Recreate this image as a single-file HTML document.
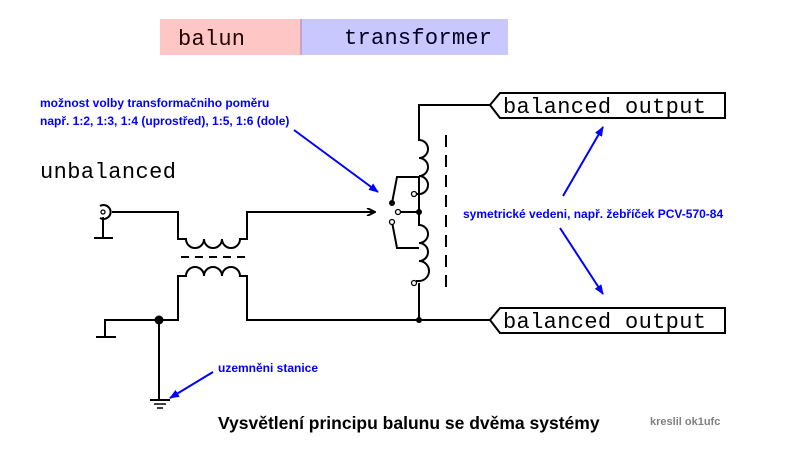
<!DOCTYPE html>
<html><head><meta charset="utf-8"><style>
html,body{margin:0;padding:0;background:#fff;}
svg{display:block}
.m{font-family:"Liberation Mono",monospace;}
.s{font-family:"Liberation Sans",sans-serif;font-weight:bold;}
</style></head><body>
<svg width="800" height="452" viewBox="0 0 800 452" xmlns="http://www.w3.org/2000/svg">
<defs>
<marker id="ah" markerWidth="10" markerHeight="8" refX="9" refY="4" orient="auto" markerUnits="userSpaceOnUse">
<path d="M0,0 L10,4 L0,8 z" fill="#0000ff"/></marker>
<marker id="ak" markerWidth="10" markerHeight="8" refX="9" refY="4" orient="auto" markerUnits="userSpaceOnUse">
<path d="M1,0 L9,4 L1,8" fill="none" stroke="#000" stroke-width="2"/></marker>
</defs>
<rect x="160" y="19" width="140" height="36" fill="#ffc6c6"/>
<rect x="300" y="19" width="208" height="36" fill="#c8c8ff"/>
<line x1="301" y1="19" x2="301" y2="55" stroke="#c8a0d0" stroke-width="2"/>
<text class="m" x="178" y="45" font-size="22" textLength="67" fill="#200">balun</text>
<text class="m" x="344" y="44" font-size="22" textLength="148" fill="#002">transformer</text>

<text class="m" x="40" y="178" font-size="22" textLength="136">unbalanced</text>

<g fill="none" stroke="#000" stroke-width="2">
<path d="M100,206 A7,7 0 1 1 100,218"/>
<circle cx="103" cy="212" r="2" stroke-width="1.3"/>
<line x1="103" y1="217" x2="103" y2="238"/>
<line x1="94" y1="238" x2="113" y2="238"/>
<path d="M112,212 H178 V239 H186 a9,9 0 0 0 18,0 a9,9 0 0 0 18,0 a9,9 0 0 0 18,0 H247 V212 H375" marker-end="url(#ak)"/>
<line x1="181" y1="257" x2="247" y2="257" stroke-dasharray="8,6"/>
<path d="M105,337 V320 H178 V276 H186 a9,9 0 0 1 18,0 a9,9 0 0 1 18,0 a9,9 0 0 1 18,0 H247 V320 H490"/>
<line x1="96" y1="337" x2="116" y2="337"/>
<line x1="159" y1="320" x2="159" y2="400"/>
<line x1="150" y1="400" x2="170" y2="400"/>
<line x1="154" y1="404" x2="166" y2="404" stroke-width="1.5"/>
<line x1="157" y1="408" x2="163" y2="408" stroke-width="1.5"/>
<path d="M490,105 H419 V140 a9,9 0 0 1 0,18 a9,9 0 0 1 0,18 a9,9 0 0 1 0,18 H416"/>
<path d="M419,177 V225 a9,9 0 0 1 0,18 a9,9 0 0 1 0,18 a9,9 0 0 1 0,20 H416"/>
<line x1="419" y1="283" x2="419" y2="320"/>
<path d="M392,203 L397,177 H419"/>
<path d="M392,222 L397,248 H419"/>
<line x1="400" y1="212" x2="419" y2="212"/>
<line x1="446" y1="135" x2="446" y2="292" stroke-dasharray="12,8"/>
<path d="M490,105 L500,93 H725 V118 H500 Z"/>
<path d="M490,320 L500,308 H725 V333 H500 Z"/>
</g>
<g fill="#fff" stroke="#000" stroke-width="1.3">
<circle cx="414" cy="194" r="2.5"/>
<circle cx="398" cy="212" r="2.5"/>
<circle cx="392" cy="222" r="2.5"/>
<circle cx="414" cy="283" r="2.5"/>
</g>
<g fill="#000">
<circle cx="392" cy="203" r="3"/>
<circle cx="419" cy="212" r="3"/>
<circle cx="419" cy="320" r="3"/>
<circle cx="159" cy="320" r="4.5"/>
</g>
<text class="m" x="503" y="113" font-size="22" textLength="203">balanced output</text>
<text class="m" x="503" y="328" font-size="22" textLength="203">balanced output</text>

<g fill="#0000ff" class="s" font-size="12">
<text x="40" y="107">možnost volby transformačniho poměru</text>
<text x="40" y="125">např. 1:2, 1:3, 1:4 (uprostřed), 1:5, 1:6 (dole)</text>
<text x="463" y="218" font-size="12">symetrické vedeni, např. žebříček PCV-570-84</text>
<text x="218" y="372" font-size="12">uzemněni stanice</text>
</g>
<g stroke="#0000ff" stroke-width="2" fill="none">
<line x1="294" y1="130" x2="378" y2="192" marker-end="url(#ah)"/>
<line x1="563" y1="196" x2="603" y2="127" marker-end="url(#ah)"/>
<line x1="560" y1="228" x2="603" y2="294" marker-end="url(#ah)"/>
<line x1="213" y1="372" x2="170" y2="398" marker-end="url(#ah)"/>
</g>
<text class="s" x="218" y="429" font-size="17.5">Vysvětlení principu balunu se dvěma systémy</text>
<text class="s" x="650" y="425" font-size="11" fill="#808080">kreslil ok1ufc</text>
</svg>
</body></html>
